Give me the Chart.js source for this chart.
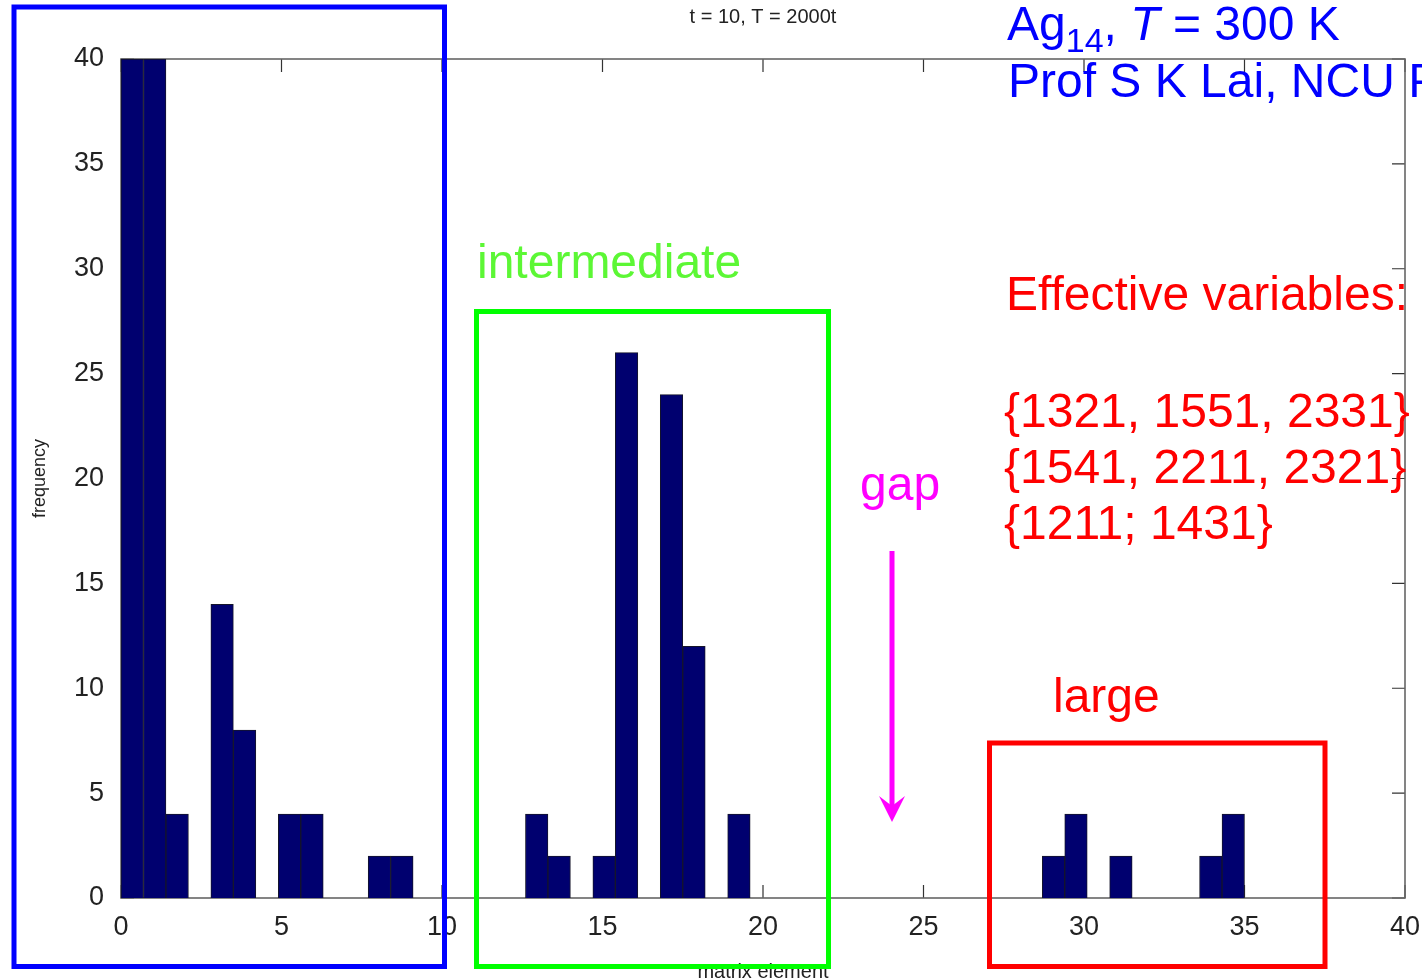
<!DOCTYPE html>
<html>
<head>
<meta charset="utf-8">
<script src="https://cdn.jsdelivr.net/npm/chart.js@4"></script>
<style>
  html, body { margin: 0; padding: 0; background: #fff; overflow: hidden; }
  #wrap { position: relative; width: 1422px; height: 978px; overflow: hidden; }
  #hist { position: absolute; left: 0; top: 0; }
  #notes { position: absolute; left: 0; top: 0; pointer-events: none; }
  #notes text { font-family: "Liberation Sans", Arial, sans-serif; font-size: 48px; }
</style>
</head>
<body>
<div id="wrap">
<canvas id="hist" width="1422" height="978"></canvas>
<svg id="notes" width="1422" height="978">
  <rect x="14" y="7" width="430.5" height="959.5" fill="none" stroke="#0000ff" stroke-width="5"/>
  <rect x="476.5" y="311.5" width="352" height="655" fill="none" stroke="#00ff00" stroke-width="5"/>
  <rect x="989.5" y="743" width="335.5" height="223.5" fill="none" stroke="#ff0000" stroke-width="5"/>
  <line x1="892" y1="551" x2="892" y2="806" stroke="#ff00ff" stroke-width="5"/>
  <polygon points="879,796 892,822 905,796 892,806" fill="#ff00ff"/>
  <text x="477" y="278" fill="#5cf735">intermediate</text>
  <text x="860" y="500" fill="#ff00ff">gap</text>
  <text x="1053" y="712" fill="#ff0000">large</text>
  <text x="1007" y="40" fill="#0000ff">Ag<tspan font-size="34" dy="12">14</tspan><tspan dy="-12">, </tspan><tspan font-style="italic">T</tspan> = 300 K</text>
  <text x="1008" y="97" fill="#0000ff">Prof S K Lai, NCU Physics</text>
  <text x="1006" y="310" fill="#ff0000">Effective variables:</text>
  <text x="1004" y="427" fill="#ff0000">{1321, 1551, 2331}</text>
  <text x="1004" y="483" fill="#ff0000">{1541, 2211, 2321}</text>
  <text x="1004" y="539" fill="#ff0000">{1211; 1431}</text>
</svg>
</div>
<script>
// histogram of matrix elements, bins 0.7 wide (only non-empty bins listed)
var binCenters = [0.35, 1.05, 1.75, 3.15, 3.85, 5.25, 5.95, 8.05, 8.75,
                  12.95, 13.65, 15.05, 15.75, 17.15, 17.85, 19.25,
                  29.05, 29.75, 31.15, 33.95, 34.65];
var counts     = [40, 40, 4, 14, 8, 4, 4, 2, 2,
                  4, 2, 2, 26, 24, 12, 4,
                  2, 4, 2, 2, 4];
var xTicks = [0, 5, 10, 15, 20, 25, 30, 35, 40];
var yTicks = [0, 5, 10, 15, 20, 25, 30, 35, 40];

var points = binCenters.map(function (c, i) { return { x: c, y: counts[i] }; });

// boxed frame with inward ticks on all four sides, drawn under the bars
var frame = {
  id: "frame",
  beforeDatasetsDraw: function (chart) {
    var ctx = chart.ctx, a = chart.chartArea;
    var xs = chart.scales.x, ys = chart.scales.y;
    ctx.save();
    ctx.strokeStyle = "#333";
    ctx.lineWidth = 1.2;
    xTicks.forEach(function (v) {
      var px = xs.getPixelForValue(v);
      ctx.beginPath();
      ctx.moveTo(px, a.bottom); ctx.lineTo(px, a.bottom - 13);
      ctx.moveTo(px, a.top); ctx.lineTo(px, a.top + 13);
      ctx.stroke();
    });
    yTicks.forEach(function (v) {
      var py = ys.getPixelForValue(v);
      ctx.beginPath();
      ctx.moveTo(a.left, py); ctx.lineTo(a.left + 13, py);
      ctx.moveTo(a.right, py); ctx.lineTo(a.right - 13, py);
      ctx.stroke();
    });
    ctx.strokeStyle = "#666";
    ctx.lineWidth = 1.6;
    ctx.strokeRect(a.left, a.top, a.right - a.left, a.bottom - a.top);
    ctx.restore();
  }
};

var tickFont = { family: "Liberation Sans", size: 27 };

new Chart(document.getElementById("hist").getContext("2d"), {
  type: "bar",
  data: {
    datasets: [{
      label: "frequency",
      data: points,
      backgroundColor: "#00006f",
      borderColor: "#15152a",
      borderWidth: 1,
      barPercentage: 1,
      categoryPercentage: 1
    }]
  },
  options: {
    responsive: false,
    animation: false,
    layout: { padding: { left: 0, right: 17, top: 0, bottom: 0 } },
    plugins: {
      legend: { display: false },
      tooltip: { enabled: false },
      title: {
        display: true,
        fullSize: false,
        text: "t = 10, T = 2000t",
        color: "#222",
        font: { family: "Liberation Sans", size: 20, weight: "normal" },
        padding: { top: 5, bottom: 30 }
      }
    },
    scales: {
      x: {
        type: "linear",
        min: 0, max: 40,
        offset: false,
        grid: { display: false, drawTicks: false },
        border: { display: false },
        ticks: { stepSize: 5, color: "#222", font: tickFont, padding: 13, maxRotation: 0 },
        title: {
          display: true, text: "matrix element", color: "#222",
          font: { family: "Liberation Sans", size: 20 },
          padding: { top: 0, bottom: -6 }
        },
        afterFit: function (s) { s.height = 80; s.paddingLeft = 0; s.paddingRight = 0; }
      },
      y: {
        min: 0, max: 40,
        grid: { display: false, drawTicks: false },
        border: { display: false },
        ticks: { stepSize: 5, color: "#222", font: tickFont, padding: 17 },
        title: {
          display: true, text: "frequency", color: "#222",
          font: { family: "Liberation Sans", size: 18 },
          padding: { top: 29, bottom: 0 }
        },
        afterFit: function (s) { s.width = 121; }
      }
    }
  },
  plugins: [frame]
});
</script>
</body>
</html>
